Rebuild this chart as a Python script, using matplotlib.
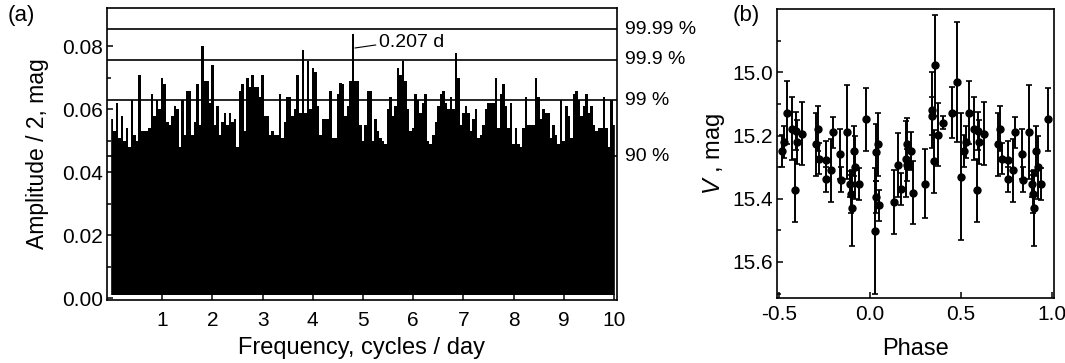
import numpy as np
import matplotlib
matplotlib.use("Agg")
import matplotlib.pyplot as plt

plt.rcParams['font.family'] = ['Liberation Sans', 'DejaVu Sans']
plt.rcParams['axes.unicode_minus'] = False
plt.rcParams['mathtext.fontset'] = 'custom'
plt.rcParams['mathtext.it'] = 'Liberation Sans:italic'
plt.rcParams['mathtext.rm'] = 'Liberation Sans'

# periodogram, amplitude/2 read every 0.05 cycles/day
freq = np.round(np.arange(0, 10.001, 0.05), 2)
amp = [
    0.057, 0.053, 0.062, 0.051, 0.058, 0.050, 0.054, 0.048, 0.063, 0.052,
    0.050, 0.071, 0.053, 0.053, 0.053, 0.054, 0.065, 0.058, 0.063, 0.060,
    0.070, 0.068, 0.056, 0.055, 0.058, 0.061, 0.060, 0.048, 0.063, 0.052,
    0.066, 0.066, 0.052, 0.056, 0.068, 0.055, 0.080, 0.069, 0.069, 0.062,
    0.074, 0.055, 0.061, 0.052, 0.056, 0.059, 0.055, 0.059, 0.056, 0.057,
    0.048, 0.066, 0.068, 0.053, 0.070, 0.067, 0.071, 0.067, 0.067, 0.064,
    0.071, 0.058, 0.058, 0.052, 0.053, 0.052, 0.052, 0.065, 0.051, 0.056,
    0.064, 0.064, 0.058, 0.060, 0.071, 0.059, 0.079, 0.059, 0.0755, 0.060,
    0.073, 0.072, 0.061, 0.052, 0.057, 0.057, 0.057, 0.066, 0.051, 0.051,
    0.065, 0.0685, 0.068, 0.058, 0.061, 0.069, 0.0839, 0.069, 0.069, 0.055,
    0.050, 0.055, 0.066, 0.066, 0.050, 0.057, 0.053, 0.051, 0.050, 0.049,
    0.060, 0.064, 0.058, 0.061, 0.073, 0.071, 0.0755, 0.069, 0.060, 0.053,
    0.054, 0.065, 0.063, 0.059, 0.062, 0.065, 0.050, 0.049, 0.052, 0.056,
    0.061, 0.065, 0.066, 0.062, 0.060, 0.064, 0.060, 0.0778, 0.070, 0.055,
    0.059, 0.061, 0.059, 0.053, 0.057, 0.060, 0.051, 0.052, 0.055, 0.060,
    0.062, 0.062, 0.062, 0.070, 0.054, 0.065, 0.068, 0.061, 0.054, 0.062,
    0.049, 0.054, 0.049, 0.048, 0.054, 0.064, 0.055, 0.055, 0.055, 0.070,
    0.064, 0.057, 0.060, 0.059, 0.059, 0.051, 0.055, 0.052, 0.049, 0.063,
    0.050, 0.061, 0.058, 0.051, 0.065, 0.066, 0.063, 0.058, 0.061, 0.065,
    0.059, 0.061, 0.055, 0.053, 0.054, 0.054, 0.064, 0.054, 0.048, 0.063,
    0.055,
]

levels = [0.0854, 0.0757, 0.0629, 0.0452]
level_labels = ['99.99 %', '99.9 %', '99 %', '90 %']

# phased light curve, phases 0..1
phase = [0.031, 0.044, 0.031, 0.027, 0.050, 0.132, 0.156, 0.168, 0.196, 0.205,
         0.224, 0.205, 0.236, 0.302, 0.339, 0.339, 0.357, 0.350, 0.372, 0.403,
         0.449, 0.478, 0.497, 0.518, 0.527, 0.546, 0.573, 0.588, 0.592, 0.600,
         0.625, 0.705, 0.716, 0.723, 0.756, 0.758, 0.784, 0.796, 0.835, 0.842,
         0.875, 0.888, 0.895, 0.900, 0.910, 0.920, 0.940, 0.976]
vmag = [15.253, 15.228, 15.395, 15.502, 15.421, 15.410, 15.293, 15.370, 15.274, 15.226,
        15.250, 15.293, 15.381, 15.352, 15.120, 15.139, 14.978, 15.281, 15.197, 15.159,
        15.128, 15.030, 15.330, 15.249, 15.220, 15.128, 15.178, 15.373, 15.186, 15.220,
        15.194, 15.228, 15.178, 15.273, 15.276, 15.338, 15.310, 15.190, 15.258, 15.340,
        15.189, 15.353, 15.384, 15.430, 15.249, 15.300, 15.353, 15.149]
verr = [0.09, 0.10, 0.05, 0.20, 0.05, 0.10, 0.10, 0.05, 0.12, 0.08,
        0.06, 0.05, 0.10, 0.11, 0.12, 0.06, 0.16, 0.10, 0.10, 0.02,
        0.08, 0.19, 0.20, 0.05, 0.05, 0.10, 0.10, 0.10, 0.06, 0.07,
        0.10, 0.10, 0.07, 0.05, 0.06, 0.04, 0.10, 0.05, 0.08, 0.04,
        0.15, 0.04, 0.06, 0.12, 0.08, 0.10, 0.05, 0.10]

fig = plt.figure(figsize=(10.65, 3.63), dpi=100)
ax1 = fig.add_axes([0.1005, 0.1736, 0.4788, 0.8044])
ax2 = fig.add_axes([0.7296, 0.179, 0.2601, 0.796])

# --- (a) periodogram
ax1.fill_between(freq, 0.0012, amp, color='black', lw=0, step='mid')
ax1.vlines(freq, 0.0012, amp, color='black', lw=1.2)
for lev in levels:
    ax1.axhline(lev, color='black', lw=1.2)
for lev, lab in zip(levels, level_labels):
    ax1.text(1.015, lev, lab, transform=ax1.get_yaxis_transform(),
             va='center', ha='left', fontsize=14)
ax1.annotate('0.207 d', xy=(4.84, 0.0795), xytext=(5.31, 0.0814),
             fontsize=14, va='center', ha='left',
             arrowprops=dict(arrowstyle='-', lw=0.8, shrinkA=0, shrinkB=0,
                             relpos=(0, 0.35)))
ax1.set_xlim(-0.1, 10.06)
ax1.set_ylim(-0.0005, 0.0922)
ax1.set_xticks(range(1, 11))
ax1.set_yticks([0.00, 0.02, 0.04, 0.06, 0.08])
ax1.set_yticks(np.arange(0.01, 0.09, 0.02), minor=True)
ax1.yaxis.set_major_formatter(matplotlib.ticker.FormatStrFormatter('%.2f'))
ax1.set_xlabel('Frequency, cycles / day', fontsize=17, labelpad=5)
ax1.set_ylabel('Amplitude / 2, mag', fontsize=16.5, labelpad=9)
fig.text(0.007, 0.985, '(a)', fontsize=16, va='top')

# --- (b) phased light curve
ph = np.array(phase)
vm = np.array(vmag)
ve = np.array(verr)
left = ph >= 0.5
ph_all = np.concatenate([ph[left] - 1, ph])
vm_all = np.concatenate([vm[left], vm])
ve_all = np.concatenate([ve[left], ve])
ax2.errorbar(ph_all, vm_all, yerr=ve_all, fmt='o', color='black', ms=5,
             elinewidth=1.4, capsize=2.5, capthick=1.2)
ax2.set_xlim(-0.51, 1.01)
ax2.set_ylim(15.714, 14.80)
ax2.set_xticks([-0.5, 0.0, 0.5, 1.0])
ax2.xaxis.set_major_formatter(matplotlib.ticker.FormatStrFormatter('%.1f'))
ax2.set_yticks([15.0, 15.2, 15.4, 15.6])
ax2.set_yticks([14.9, 15.1, 15.3, 15.5, 15.7], minor=True)
ax2.set_xlabel('Phase', fontsize=17, labelpad=10)
ax2.set_ylabel(r'$V$ , mag', fontsize=17, labelpad=4)
fig.text(0.688, 0.985, '(b)', fontsize=16, va='top')

for ax in (ax1, ax2):
    for s in ax.spines.values():
        s.set_linewidth(1.2)
    ax.tick_params(which='both', direction='in', labelsize=15, width=1.1, pad=3)
    ax.tick_params(which='major', length=4)
    ax.tick_params(which='minor', length=3)
    ax.tick_params(axis='x', which='both', top=False)
    ax.tick_params(axis='y', which='both', right=False)
ax1.tick_params(axis='x', pad=8)
ax2.tick_params(axis='x', pad=5)

fig.savefig('out.png', dpi=100)
